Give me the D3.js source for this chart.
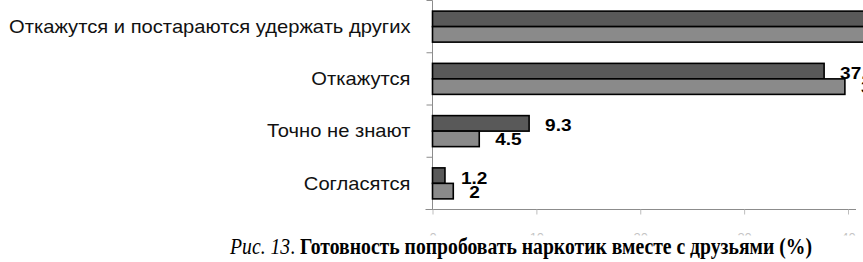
<!DOCTYPE html>
<html>
<head>
<meta charset="utf-8">
<script src="https://cdn.jsdelivr.net/npm/d3@7"></script>
<style>
  html, body { margin: 0; padding: 0; background: #fff; }
  svg { display: block; }
</style>
</head>
<body>
<svg id="chart" width="863" height="262"></svg>
<script>
'use strict';

// categories top to bottom
var categories = [
	'Откажутся и постараются удержать других',
	'Откажутся',
	'Точно не знают',
	'Согласятся'
];
// two series (dark / light), percent
var seriesDark = [51.8, 37.7, 9.3, 1.2];
var seriesLight = [53.8, 39.7, 4.5, 2];
var xTicks = [0, 10, 20, 30, 40];
var captionNum = 'Рис. 13';
var captionText = 'Готовность попробовать наркотик вместе с друзьями (%)';

var margin = { top: 0.5, left: 432.5 },
	plotW = 415.5,
	plotH = 209,
	stretch = 1.12; // the chart text is a bit wide in the scan

var svg = d3.select('#chart');

var x = d3.scaleLinear().domain([0, 40]).range([0, plotW]);
var y = d3.scaleBand().domain(categories).range([0, plotH]).padding(0);
var ySeries = d3.scaleBand().domain(['dark', 'light']).range([0, y.bandwidth()])
	.paddingInner(0).paddingOuter(0.685);

var colors = { dark: '#595959', light: '#8a8a8a' };

var g = svg.append('g')
	.attr('transform', 'translate(' + margin.left + ',' + margin.top + ')');

// x axis (tick labels mostly hidden under the caption)
var xAxis = d3.axisBottom(x).tickValues(xTicks).tickSize(5).tickPadding(18);
var xg = g.append('g')
	.attr('transform', 'translate(0,' + plotH + ')')
	.call(xAxis);
xg.select('.domain').attr('stroke', '#8c8c8c').attr('d', 'M-7,0H' + (plotW + 8));
xg.selectAll('.tick line').attr('stroke', '#bdbdbd');
xg.selectAll('.tick text')
	.attr('fill', '#c4c4c4')
	.style('font-family', 'Liberation Sans, Arial, sans-serif')
	.style('font-size', '13px');

// y axis: line plus ticks at band boundaries
g.append('line')
	.attr('x1', 0).attr('x2', 0)
	.attr('y1', 0).attr('y2', plotH)
	.attr('stroke', '#8c8c8c');
var bounds = categories.map(function(c) { return y(c); }).concat([plotH]);
g.selectAll('.ytick')
	.data(bounds)
	.enter()
	.append('line')
	.attr('class', 'ytick')
	.attr('x1', -6).attr('x2', 0)
	.attr('y1', function(d) { return d; })
	.attr('y2', function(d) { return d; })
	.attr('stroke', '#8c8c8c');

// category labels
g.selectAll('.cat')
	.data(categories)
	.enter()
	.append('text')
	.attr('class', 'cat')
	.attr('transform', function(d) {
		return 'translate(-22,' + (y(d) + y.bandwidth() / 2) + ') scale(' + stretch + ',1)';
	})
	.attr('dy', '0.35em')
	.attr('text-anchor', 'end')
	.style('font-family', 'Liberation Sans, Arial, sans-serif')
	.style('font-size', '18px')
	.attr('fill', '#111')
	.text(function(d) { return d; });

// flatten to bars
var bars = [];
categories.forEach(function(c, i) {
	bars.push({ cat: c, key: 'dark', value: seriesDark[i] });
	bars.push({ cat: c, key: 'light', value: seriesLight[i] });
});

g.selectAll('.bar')
	.data(bars)
	.enter()
	.append('rect')
	.attr('class', 'bar')
	.attr('x', 0)
	.attr('y', function(d) { return y(d.cat) + ySeries(d.key); })
	.attr('width', function(d) { return x(d.value); })
	.attr('height', ySeries.bandwidth())
	.attr('fill', function(d) { return colors[d.key]; })
	.attr('stroke', '#000')
	.attr('stroke-width', 1.6);

// value labels
g.selectAll('.val')
	.data(bars)
	.enter()
	.append('text')
	.attr('class', 'val')
	.attr('transform', function(d) {
		var ty = y(d.cat) + ySeries(d.key) + ySeries.bandwidth() / 2 + (d.key === 'dark' ? 2 : 0.5);
		return 'translate(' + (x(d.value) + 16) + ',' + ty + ') scale(' + stretch + ',1)';
	})
	.attr('dy', '0.36em')
	.style('font-family', 'Liberation Sans, Arial, sans-serif')
	.style('font-size', '17px')
	.style('font-weight', 'bold')
	.attr('fill', '#000')
	.text(function(d) { return String(d.value); });

// caption, drawn over the hidden tick labels
svg.append('rect')
	.attr('x', 0).attr('y', 235.5)
	.attr('width', 863).attr('height', 27)
	.attr('fill', '#fff');

var cap = svg.append('text')
	.attr('transform', 'translate(521,254) scale(0.82,1)')
	.attr('text-anchor', 'middle')
	.style('font-family', 'Liberation Serif, Times New Roman, serif')
	.style('font-size', '24px')
	.attr('fill', '#000');
cap.append('tspan').style('font-style', 'italic').text(captionNum);
cap.append('tspan').text('. ');
cap.append('tspan').style('font-weight', 'bold').text(captionText);
</script>
</body>
</html>
